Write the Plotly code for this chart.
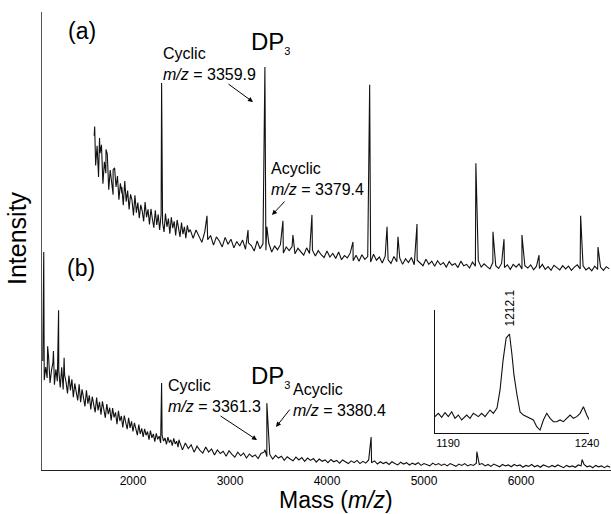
import numpy as np
import plotly.graph_objects as go

# ---------------- data ----------------
# (a) spectrum, offset upward for stacking.
# Baseline sampled every 15 Da up to 2590 (busy low-mass region), then every 30 Da.
mass_grid_a = np.concatenate([np.arange(1600, 2591, 15), np.arange(2620, 6911, 30)])
noise_a = [
    # 1600 - 2590 (15 Da)
    73.0, 66.5, 70.8, 64.0, 69.2, 71.0, 62.5, 67.3, 64.8, 69.0,
    61.2, 65.5, 63.0, 60.1, 66.0, 61.8, 64.2, 59.0, 62.6, 60.4,
    57.8, 63.1, 58.6, 61.0, 56.9, 60.2, 58.9, 55.6, 60.0, 56.2,
    58.4, 55.0, 57.9, 56.6, 54.3, 58.5, 55.2, 56.9, 53.6, 57.0,
    54.8, 52.9, 56.7, 53.5, 55.8, 52.4, 55.9, 54.0, 52.0, 56.0,
    53.1, 54.9, 51.6, 55.2, 52.8, 54.3, 51.2, 54.6, 52.2, 50.9,
    54.0, 51.5, 53.1, 50.6, 53.4, 51.9, 52.5,
    # 2620 - 6910 (30 Da)
    50.6, 52.4, 51.0, 49.7, 52.0, 50.3, 51.2, 49.1, 50.9, 50.0,
    48.7, 50.8, 49.3, 50.4, 48.5, 49.9, 48.9, 50.2, 48.2, 49.6,
    49.0, 47.8, 50.0, 48.3, 49.4, 48.0, 49.5, 47.6, 48.9, 48.1,
    49.2, 47.4, 48.7, 47.9, 48.8, 47.2, 48.4, 47.7, 46.9, 48.5,
    47.3, 48.0, 46.7, 47.9, 47.0, 46.4, 47.8, 46.5, 47.3, 46.2,
    47.6, 45.9, 46.8, 46.3, 47.4, 45.7, 46.9, 45.6, 47.0, 46.0,
    46.6, 45.4, 47.1, 45.8, 46.5, 45.2, 46.7, 45.9, 45.1, 46.6,
    45.5, 46.3, 44.9, 46.1, 45.3, 46.4, 44.8, 45.8, 45.2, 44.6,
    46.0, 44.9, 45.6, 44.5, 45.7, 44.8, 45.3, 44.3, 45.5, 44.7,
    45.1, 44.2, 45.6, 44.6, 44.9, 44.1, 45.4, 44.5, 45.7, 44.3,
    45.0, 44.4, 43.9, 45.3, 44.6, 44.0, 45.1, 44.2, 44.8, 43.8,
    44.9, 44.3, 45.0, 43.9, 44.6, 44.1, 44.8, 43.7, 44.5, 44.0,
    44.9, 43.8, 44.4, 43.6, 44.7, 44.2, 43.7, 44.6, 43.9, 44.5,
    43.6, 44.3, 44.8, 43.9, 44.6, 43.7, 44.2, 43.5, 44.5, 43.8,
    44.3, 43.6, 44.4, 43.9,
]
peak_mass_a = [1605, 1655, 1722, 1795, 1885, 2295, 2763, 3186, 3360, 3380,
               3546, 3649, 3845, 4268, 4440, 4619, 4732, 4928, 5535, 5711,
               5825, 6010, 6186, 6615, 6794]
peak_int_a = [75.0, 72.5, 70.0, 65.5, 61.8, 84.5, 55.5, 52.4, 88.0, 53.1,
              54.4, 51.3, 55.7, 49.8, 84.1, 53.1, 50.9, 53.7, 67.0, 52.0,
              50.4, 51.3, 46.9, 55.5, 48.7]

# (b) spectrum: baseline sampled every 15 Da up to 2480, then every 30 Da.
mass_grid_b = np.concatenate([np.arange(1070, 2481, 15), np.arange(2510, 6921, 30)])
noise_b = [
    # 1070 - 2480 (15 Da)
    23.8, 19.6, 22.5, 20.1, 24.6, 19.0, 21.8, 23.5, 18.6, 22.0,
    19.4, 21.7, 18.0, 22.4, 17.6, 20.8, 19.2, 16.7, 20.6, 17.4,
    19.8, 15.9, 18.9, 17.0, 15.2, 18.7, 14.8, 17.6, 15.6, 13.9,
    17.4, 14.5, 16.3, 13.2, 16.0, 14.1, 12.6, 15.8, 13.0, 14.9,
    12.1, 15.0, 12.9, 11.4, 14.4, 12.2, 13.6, 10.8, 13.5, 11.5,
    12.6, 10.0, 12.9, 10.7, 11.8, 9.3, 11.9, 10.1, 8.9, 11.4,
    9.2, 10.6, 8.4, 10.3, 8.8, 7.6, 9.9, 7.9, 9.1, 7.2,
    9.0, 7.6, 8.4, 6.6, 8.6, 7.0, 7.9, 6.2, 8.0, 6.7,
    7.4, 5.9, 7.6, 6.3, 7.0, 5.6, 7.2, 6.0, 6.6, 5.3,
    6.9, 5.7, 6.3, 5.0, 6.2,
    # 2510 - 6920 (30 Da)
    4.4, 5.9, 4.7, 5.5, 3.9, 5.2, 4.3, 3.7, 5.0, 3.9,
    4.6, 3.3, 4.4, 3.6, 4.1, 3.0, 4.2, 3.4, 2.8, 3.9,
    3.1, 3.7, 2.6, 3.5, 2.9, 3.3, 2.5, 3.6, 3.9, 2.9,
    3.4, 2.4, 3.2, 2.6, 3.0, 2.1, 2.9, 2.4, 2.0, 2.8,
    2.2, 2.7, 1.9, 2.6, 2.1, 2.5, 1.7, 2.4, 1.9, 2.2,
    1.6, 2.3, 1.8, 2.1, 1.5, 2.2, 1.7, 1.4, 2.0, 1.6,
    2.1, 1.4, 1.9, 1.5, 2.2, 1.6, 2.0, 1.3, 1.8, 1.4,
    1.7, 1.2, 1.8, 1.4, 1.1, 1.7, 1.3, 1.6, 1.1, 1.5,
    1.2, 1.6, 1.0, 1.4, 1.2, 0.9, 1.5, 1.1, 1.4, 1.0,
    1.3, 0.9, 1.4, 1.1, 0.8, 1.3, 1.0, 1.4, 0.9, 1.2,
    1.0, 1.5, 1.2, 1.4, 0.9, 1.2, 0.8, 1.3, 1.0, 0.7,
    1.2, 0.9, 1.1, 0.7, 1.2, 0.9, 1.1, 0.6, 1.0, 0.8,
    1.2, 0.7, 1.0, 0.6, 1.1, 0.8, 0.6, 1.0, 0.7, 1.1,
    0.8, 0.5, 1.0, 0.7, 0.9, 0.6, 1.1, 0.9, 1.2, 0.7,
    0.9, 0.5, 1.0, 0.7, 0.9, 0.5, 0.9, 0.6,
]
peak_mass_b = [1080, 1120, 1180, 1233, 1290, 2295, 2474, 3361, 3380, 4455, 5545, 6630]
peak_int_b = [47.6, 27.0, 26.0, 34.9, 24.5, 19.0, 6.6, 4.4, 14.6, 7.2, 4.0, 2.3]

# inset: zoomed region around m/z 1212.1
inset_mass = [1185.3, 1186.5, 1187.7, 1188.9, 1190.1, 1191.3, 1192.5, 1193.7, 1194.9,
              1196.7, 1197.9, 1199.1, 1200.9, 1202.1, 1203.3, 1205.1, 1206.3, 1207.6,
              1208.7, 1209.8, 1210.9, 1212.1, 1213.0, 1213.7, 1214.8, 1215.9, 1217.1,
              1218.3, 1219.5, 1220.7, 1221.9, 1223.1, 1224.3, 1225.5, 1226.7, 1227.9,
              1229.1, 1230.3, 1231.5, 1232.7, 1233.9, 1235.1, 1236.3, 1237.5, 1238.7,
              1239.9, 1240.8]
inset_int = [13.3, 16.0, 12.7, 16.5, 13.3, 17.3, 11.9, 14.6, 10.6,
             14.6, 11.9, 16.0, 13.3, 16.0, 13.3, 18.7, 16.0, 20.3,
             35.0, 59.3, 77.2, 80.5, 63.4, 47.2, 30.9, 17.1, 14.6,
             13.3, 11.9, 10.6, 5.1, 2.4, 10.6, 16.0, 11.9, 9.2,
             9.2, 10.6, 9.2, 11.9, 14.6, 11.9, 13.3, 16.0, 21.4,
             14.6, 10.6]

x_ticks = [2000, 3000, 4000, 5000, 6000]
inset_ticks = [1190, 1240]


def merge_peaks(grid, noise, pk_mass, pk_int):
    """Insert each spike's apex into the sampled baseline trace."""
    pts = list(zip(grid.tolist(), noise))
    pts += list(zip(pk_mass, pk_int))
    pts.sort(key=lambda p: p[0])
    return [p[0] for p in pts], [p[1] for p in pts]


xa, ya = merge_peaks(mass_grid_a, noise_a, peak_mass_a, peak_int_a)
xb, yb = merge_peaks(mass_grid_b, noise_b, peak_mass_b, peak_int_b)

# ---------------- figure ----------------
W, H = 611, 514
FONT = "Liberation Sans, Arial, sans-serif"


def px(x):
    return x / W


def py(y):
    return 1 - y / H


line_style = dict(color="#111111", width=1.1)

fig = go.Figure()
fig.add_trace(go.Scatter(x=xa, y=ya, mode="lines", line=line_style,
                         hoverinfo="skip", showlegend=False))
fig.add_trace(go.Scatter(x=xb, y=yb, mode="lines", line=line_style,
                         hoverinfo="skip", showlegend=False))
fig.add_trace(go.Scatter(x=inset_mass, y=inset_int, mode="lines", line=line_style,
                         xaxis="x2", yaxis="y2", hoverinfo="skip", showlegend=False))

ann = []


def text(t, x, y, size, xanchor="left", yanchor="middle", angle=0, **kw):
    ann.append(dict(text=t, x=px(x), y=py(y), xref="paper", yref="paper",
                    xanchor=xanchor, yanchor=yanchor, showarrow=False,
                    textangle=angle, font=dict(family=FONT, size=size, color="black"),
                    align="left", **kw))


def arrow(tail, head):
    ann.append(dict(text="", x=px(head[0]), y=py(head[1]), xref="paper", yref="paper",
                    ax=tail[0] - head[0], ay=tail[1] - head[1],
                    axref="pixel", ayref="pixel", showarrow=True,
                    arrowhead=2, arrowsize=1, arrowwidth=1, arrowcolor="black",
                    standoff=0, startstandoff=0))


DP3 = "DP<sub><span style='font-size:11px'>3</span></sub>"

text("(a)", 82, 31, 23, xanchor="center")
text("(b)", 81, 268, 23, xanchor="center")

text(DP3, 249, 42, 24)
text("Cyclic<br><i>m/z</i> = 3359.9", 161, 43, 16, yanchor="top")
arrow((227, 83), (253, 102))
text("Acyclic<br><i>m/z</i> = 3379.4", 269, 158, 16, yanchor="top")
arrow((286, 200), (272, 215))

text(DP3, 249, 376, 24)
text("Cyclic<br><i>m/z</i> = 3361.3", 166, 375, 16, yanchor="top")
arrow((219, 415), (257, 440))
text("Acyclic<br><i>m/z</i> = 3380.4", 291, 379, 16, yanchor="top")
arrow((291, 408), (276, 427))

text("Intensity", 17, 238, 25, xanchor="center", angle=-90)
text("Mass (<i>m/z</i>)", 336, 500, 23, xanchor="center")

# inset peak label placed on the peak's own m/z
ann.append(dict(text="1212.1", x=1212.1, y=py(308), xref="x2", yref="paper",
                xanchor="center", yanchor="middle", showarrow=False, textangle=-90,
                font=dict(family=FONT, size=12, color="black")))

fig.update_layout(
    width=W, height=H, autosize=False,
    margin=dict(l=0, r=0, t=0, b=0),
    paper_bgcolor="white", plot_bgcolor="white",
    font=dict(family=FONT, color="black"),
    annotations=ann,
    xaxis=dict(domain=[px(42), 1.0], range=[1062, 6928], tickvals=x_ticks,
               ticktext=[str(v) for v in x_ticks], ticks="", showgrid=False,
               zeroline=False, showline=True, linecolor="#222222", linewidth=1,
               tickfont=dict(family=FONT, size=12), automargin=False),
    yaxis=dict(domain=[py(470), py(12)], range=[0, 100], showticklabels=False,
               ticks="", showgrid=False, zeroline=False, showline=True,
               linecolor="#555555", linewidth=1, automargin=False),
    xaxis2=dict(domain=[px(435), px(589)], range=[1185.3, 1240.7], anchor="y2",
                tickvals=inset_ticks, ticktext=[str(v) for v in inset_ticks],
                ticks="", showgrid=False, zeroline=False, showline=True,
                linecolor="#111111", linewidth=1,
                tickfont=dict(family=FONT, size=11), automargin=False),
    yaxis2=dict(domain=[py(433), py(310)], range=[0, 100], anchor="x2",
                showticklabels=False, ticks="", showgrid=False, zeroline=False,
                showline=True, linecolor="#111111", linewidth=1, automargin=False),
)

fig.write_html("out.html")
